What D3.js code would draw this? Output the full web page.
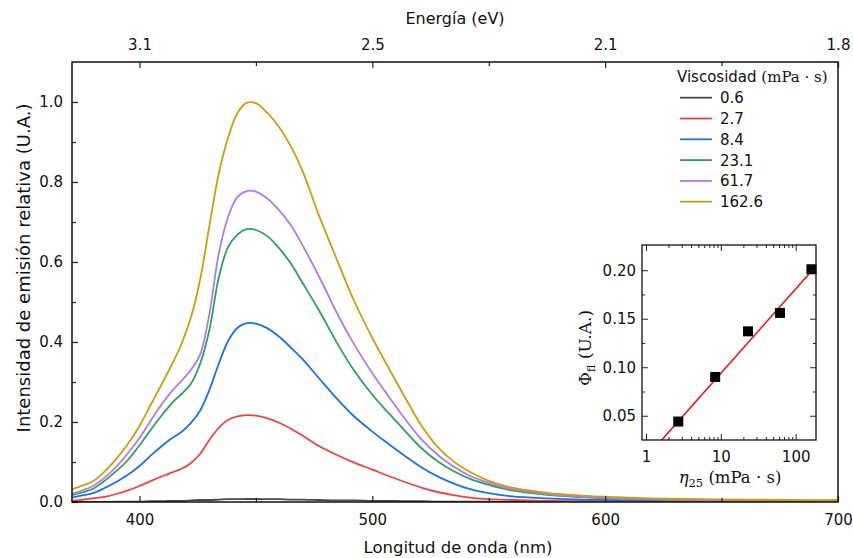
<!DOCTYPE html>
<html>
<head>
<meta charset="utf-8">
<script src="https://cdn.jsdelivr.net/npm/d3@7"></script>
<style>
  body { margin: 0; background: #fff; }
  text { font-family: "DejaVu Sans", sans-serif; fill: #111; }
  .serif { font-family: "DejaVu Serif", serif; }
</style>
</head>
<body>
<svg id="chart" width="853" height="558"></svg>
<script>
// wavelength grid (nm)
const wavelengths = [371, 376, 380, 385, 390, 395, 400, 405, 410, 414, 418, 422, 426, 430,
  434, 438, 442, 446, 450, 455, 460, 465, 470, 477, 485, 492, 500, 507,
  514, 521, 528, 535, 542, 550, 560, 575, 590, 605, 620, 640, 660, 680, 700];

// relative emission for each viscosity
const em_0_6 = [0, 0, 0, 0, 0.001, 0.001, 0.001, 0.002, 0.002, 0.003, 0.003, 0.004, 0.005, 0.005,
  0.006, 0.007, 0.007, 0.0075, 0.0075, 0.007, 0.007, 0.006, 0.006, 0.005, 0.004, 0.004, 0.003, 0.003,
  0.002, 0.002, 0.001, 0.001, 0.001, 0.001, 0, 0, 0, 0, 0, 0, 0, 0, 0];
const em_2_7 = [0.003, 0.006, 0.009, 0.013, 0.02, 0.029, 0.04, 0.053, 0.065, 0.074, 0.083, 0.097, 0.12, 0.155,
  0.185, 0.205, 0.214, 0.217, 0.216, 0.209, 0.198, 0.183, 0.166, 0.14, 0.117, 0.099, 0.081, 0.065,
  0.05, 0.036, 0.025, 0.017, 0.011, 0.007, 0.005, 0.003, 0.002, 0.002, 0.002, 0.001, 0.001, 0.001, 0.001];
const em_8_4 = [0.011, 0.017, 0.022, 0.035, 0.05, 0.068, 0.09, 0.117, 0.142, 0.16, 0.175, 0.197, 0.228, 0.28,
  0.345, 0.402, 0.435, 0.447, 0.446, 0.434, 0.413, 0.386, 0.357, 0.31, 0.257, 0.215, 0.176, 0.145,
  0.115, 0.087, 0.064, 0.046, 0.032, 0.022, 0.014, 0.009, 0.006, 0.005, 0.004, 0.003, 0.003, 0.002, 0.002];
const em_23_1 = [0.017, 0.025, 0.033, 0.053, 0.077, 0.105, 0.142, 0.182, 0.22, 0.248, 0.27, 0.295, 0.345, 0.43,
  0.56, 0.637, 0.668, 0.682, 0.68, 0.664, 0.634, 0.596, 0.548, 0.48, 0.396, 0.33, 0.268, 0.222,
  0.178, 0.135, 0.102, 0.077, 0.058, 0.043, 0.029, 0.018, 0.012, 0.008, 0.006, 0.004, 0.003, 0.003, 0.003];
const em_61_7 = [0.021, 0.03, 0.04, 0.061, 0.088, 0.122, 0.16, 0.205, 0.248, 0.278, 0.303, 0.33, 0.368, 0.47,
  0.62, 0.712, 0.762, 0.777, 0.776, 0.758, 0.729, 0.692, 0.642, 0.565, 0.47, 0.396, 0.322, 0.264,
  0.208, 0.157, 0.118, 0.088, 0.065, 0.048, 0.032, 0.02, 0.013, 0.009, 0.007, 0.005, 0.004, 0.004, 0.003];
const em_162_6 = [0.032, 0.042, 0.052, 0.076, 0.108, 0.145, 0.19, 0.245, 0.3, 0.345, 0.395, 0.46, 0.555, 0.69,
  0.82, 0.91, 0.972, 0.998, 0.997, 0.972, 0.937, 0.889, 0.828, 0.717, 0.603, 0.505, 0.41, 0.335,
  0.262, 0.192, 0.138, 0.101, 0.075, 0.053, 0.036, 0.023, 0.016, 0.012, 0.009, 0.007, 0.006, 0.005, 0.005];

const seriesLabels = ["0.6", "2.7", "8.4", "23.1", "61.7", "162.6"];
const seriesValues = [em_0_6, em_2_7, em_8_4, em_23_1, em_61_7, em_162_6];
const seriesColors = ["#4a4a4a", "#f2423f", "#1f6fe5", "#2e9e62", "#b07be4", "#d09c0c"];

// axis ticks
const xMajor = [400, 500, 600, 700];
const xMinor = [450, 550, 650];
const energyLabels = ["3.1", "2.5", "2.1", "1.8"];
const yMajor = [0, 0.2, 0.4, 0.6, 0.8, 1.0];
const yMinor = [0.1, 0.3, 0.5, 0.7, 0.9];

// inset: quantum yield vs viscosity
const viscosity = [2.7, 8.4, 23.1, 61.7, 162.6];
const quantumYield = [0.044, 0.090, 0.137, 0.156, 0.201];
const fitX = [1.6, 160];
const fitY = [0.0245, 0.1985];
const insetYMajor = [0.05, 0.10, 0.15, 0.20];
const insetYMinor = [0.075, 0.125, 0.175];
const insetXMajor = [1, 10, 100];
const insetXMinor = [2, 3, 4, 5, 6, 7, 8, 9, 20, 30, 40, 50, 60, 70, 80, 90];

const svg = d3.select("#chart");
const margin = { top: 62, right: 15, bottom: 56, left: 72 };
const W = 853, H = 558;

const x = d3.scaleLinear().domain([371, 700]).range([margin.left, W - margin.right]);
const y = d3.scaleLinear().domain([0, 1.1]).range([H - margin.bottom, margin.top]);

svg.append("clipPath").attr("id", "plotclip")
  .append("rect")
  .attr("x", margin.left).attr("y", margin.top)
  .attr("width", W - margin.left - margin.right)
  .attr("height", H - margin.top - margin.bottom);

// curves
const line = d3.line()
  .x((d, i) => x(wavelengths[i]))
  .y(d => y(d))
  .curve(d3.curveCatmullRom.alpha(0.5));

svg.append("g").attr("clip-path", "url(#plotclip)")
  .selectAll("path")
  .data(seriesValues)
  .join("path")
  .attr("fill", "none")
  .attr("stroke", (d, i) => seriesColors[i])
  .attr("stroke-width", 1.8)
  .attr("d", line);

// axes (ticks inward)
const yBottom = H - margin.bottom, yTop = margin.top;
svg.append("g")
  .attr("transform", `translate(0,${yBottom})`)
  .call(d3.axisBottom(x).tickValues(xMajor).tickSize(-6).tickPadding(12).tickFormat(d3.format("d")))
  .call(g => g.select(".domain").remove());
svg.append("g")
  .attr("transform", `translate(0,${yBottom})`)
  .call(d3.axisBottom(x).tickValues(xMinor).tickSize(-4).tickFormat(""))
  .call(g => g.select(".domain").remove());

svg.append("g")
  .attr("transform", `translate(0,${yTop})`)
  .call(d3.axisTop(x).tickValues(xMajor).tickSize(-6).tickPadding(12)
    .tickFormat((d, i) => energyLabels[i]))
  .call(g => g.select(".domain").remove());
svg.append("g")
  .attr("transform", `translate(0,${yTop})`)
  .call(d3.axisTop(x).tickValues(xMinor).tickSize(-4).tickFormat(""))
  .call(g => g.select(".domain").remove());

svg.append("g")
  .attr("transform", `translate(${margin.left},0)`)
  .call(d3.axisLeft(y).tickValues(yMajor).tickSize(-6).tickPadding(9).tickFormat(d3.format(".1f")))
  .call(g => g.select(".domain").remove());
svg.append("g")
  .attr("transform", `translate(${margin.left},0)`)
  .call(d3.axisLeft(y).tickValues(yMinor).tickSize(-4).tickFormat(""))
  .call(g => g.select(".domain").remove());

svg.selectAll(".tick text").attr("font-size", 15).attr("font-family", "DejaVu Sans").attr("fill", "#111");
svg.selectAll(".tick line").attr("stroke", "#222").attr("stroke-width", 1.2);

svg.append("rect")
  .attr("x", margin.left).attr("y", margin.top)
  .attr("width", W - margin.left - margin.right)
  .attr("height", H - margin.top - margin.bottom)
  .attr("fill", "none").attr("stroke", "#111").attr("stroke-width", 1.5);

// titles
svg.append("text").attr("x", 455).attr("y", 24).attr("text-anchor", "middle")
  .attr("font-size", 16).text("Energía (eV)");
svg.append("text").attr("x", 458).attr("y", 553).attr("text-anchor", "middle")
  .attr("font-size", 16.5).text("Longitud de onda (nm)");
svg.append("text").attr("transform", "translate(30,268) rotate(-90)").attr("text-anchor", "middle")
  .attr("font-size", 18).text("Intensidad de emisión relativa (U.A.)");

// legend
const legend = svg.append("g");
const lt = legend.append("text").attr("x", 677).attr("y", 82).attr("font-size", 15);
lt.append("tspan").text("Viscosidad ");
lt.append("tspan").attr("class", "serif").attr("font-size", 15).text("(mPa · s)");

const rows = legend.selectAll("g.row").data(seriesLabels).join("g")
  .attr("transform", (d, i) => `translate(0,${97.7 + i * 20.8})`);
rows.append("line").attr("x1", 680).attr("x2", 712)
  .attr("stroke", (d, i) => seriesColors[i]).attr("stroke-width", 1.8);
rows.append("text").attr("x", 720).attr("y", 5.5).attr("font-size", 15).text(d => d);

// inset
const ix = d3.scaleLog().domain([0.884, 187]).range([642, 816]);
const iy = d3.scaleLinear().domain([0.025, 0.226]).range([440, 245]);
const inset = svg.append("g");

inset.append("rect").attr("x", 642).attr("y", 245).attr("width", 174).attr("height", 195)
  .attr("fill", "#fff");

inset.append("clipPath").attr("id", "insetclip")
  .append("rect").attr("x", 642).attr("y", 245).attr("width", 174).attr("height", 195);

inset.append("path")
  .attr("clip-path", "url(#insetclip)")
  .datum(fitX.map((v, i) => [v, fitY[i]]))
  .attr("fill", "none").attr("stroke", "#ee1111").attr("stroke-width", 1.6)
  .attr("d", d3.line().x(d => ix(d[0])).y(d => iy(d[1])));

inset.selectAll("rect.pt").data(viscosity).join("rect")
  .attr("class", "pt")
  .attr("x", d => ix(d) - 5).attr("y", (d, i) => iy(quantumYield[i]) - 5)
  .attr("width", 10).attr("height", 10).attr("fill", "#000");

function insetAxis(axis, tx, ty, vals, size, fmt, pad) {
  inset.append("g").attr("transform", `translate(${tx},${ty})`)
    .call(axis.tickValues(vals).tickSize(size).tickPadding(pad || 6).tickFormat(fmt))
    .call(g => g.select(".domain").remove())
    .call(g => g.selectAll(".tick line").attr("stroke", "#222"))
    .call(g => g.selectAll(".tick text").attr("font-size", 15).attr("fill", "#111"));
}
insetAxis(d3.axisBottom(ix), 0, 440, insetXMajor, -6, d3.format("d"), 11);
insetAxis(d3.axisBottom(ix), 0, 440, insetXMinor, -3, () => "");
insetAxis(d3.axisTop(ix), 0, 245, insetXMajor, -6, () => "");
insetAxis(d3.axisTop(ix), 0, 245, insetXMinor, -3, () => "");
insetAxis(d3.axisLeft(iy), 642, 0, insetYMajor, -6, d3.format(".2f"), 6);
insetAxis(d3.axisLeft(iy), 642, 0, insetYMinor, -3, () => "");
insetAxis(d3.axisRight(iy), 816, 0, insetYMajor, -6, () => "");
insetAxis(d3.axisRight(iy), 816, 0, insetYMinor, -3, () => "");

inset.append("rect").attr("x", 642).attr("y", 245).attr("width", 174).attr("height", 195)
  .attr("fill", "none").attr("stroke", "#111").attr("stroke-width", 1.3);

const xl = inset.append("text").attr("class", "serif").attr("x", 730).attr("y", 483)
  .attr("text-anchor", "middle").attr("font-size", 16.5);
xl.append("tspan").attr("font-style", "italic").text("η");
xl.append("tspan").attr("font-size", 11.5).attr("dy", 4).text("25");
xl.append("tspan").attr("dy", -4).text(" (mPa · s)");

const yl = inset.append("text").attr("class", "serif")
  .attr("transform", "translate(591,348) rotate(-90)")
  .attr("text-anchor", "middle").attr("font-size", 17);
yl.append("tspan").text("Φ");
yl.append("tspan").attr("font-size", 11.5).attr("dy", 4).text("fl");
yl.append("tspan").attr("dy", -4).text(" (U.A.)");
</script>
</body>
</html>
